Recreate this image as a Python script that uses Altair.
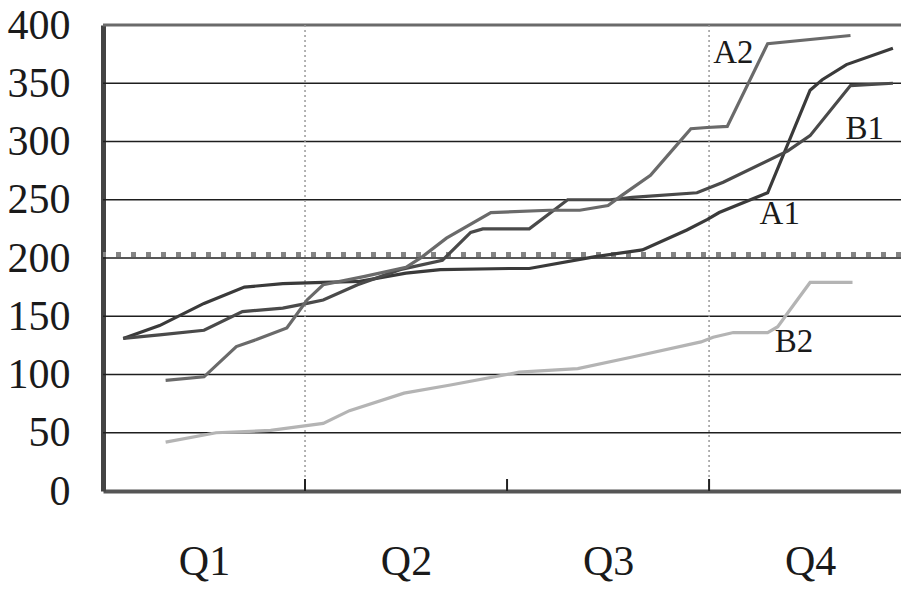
import altair as alt
import pandas as pd

# ---- data (x in quarter units, 0 = start of Q1) ----
y_ticks = [0, 50, 100, 150, 200, 250, 300, 350, 400]
grid_values = [50, 100, 150, 200, 250, 300, 350]
quarter_centers = [0.5, 1.5, 2.5, 3.5]
quarter_bounds = [1, 3]
bottom_ticks = [1, 2, 3]
threshold = [203]

a1_x = [0.10, 0.28, 0.50, 0.70, 0.89, 1.09, 1.27, 1.50, 1.67, 2.01, 2.11, 2.43, 2.67, 2.89, 2.99, 3.05, 3.29, 3.50, 3.56, 3.68, 3.91]
a1_y = [131, 142, 161, 175, 178, 179, 180, 187, 190, 191, 191, 201, 207, 224, 233, 239, 256, 344, 353, 366, 380]

b1_x = [0.10, 0.28, 0.50, 0.69, 0.89, 1.01, 1.09, 1.26, 1.47, 1.68, 1.82, 1.88, 2.11, 2.30, 2.51, 2.62, 2.94, 3.07, 3.39, 3.50, 3.70, 3.91]
b1_y = [131, 134, 138, 154, 157, 161, 164, 177, 190, 198, 222, 225, 225, 250, 250, 252, 256, 265, 292, 305, 348, 350]

a2_x = [0.31, 0.50, 0.66, 0.76, 0.91, 1.01, 1.09, 1.29, 1.50, 1.58, 1.70, 1.92, 2.21, 2.36, 2.50, 2.57, 2.71, 2.86, 2.91, 2.99, 3.09, 3.29, 3.70]
a2_y = [95, 98, 124, 130, 140, 164, 177, 184, 192, 201, 217, 239, 241, 241, 245, 254, 271, 301, 311, 312, 313, 384, 391]

b2_x = [0.31, 0.56, 0.83, 0.96, 1.09, 1.22, 1.49, 1.72, 2.06, 2.35, 2.62, 2.96, 3.02, 3.12, 3.29, 3.34, 3.39, 3.50, 3.71]
b2_y = [42, 50, 52, 55, 58, 69, 84, 91, 102, 105, 115, 128, 132, 136, 136, 141, 153, 179, 179]

label_names = ["A2", "A1", "B1", "B2"]
label_x = [3.12, 3.35, 3.77, 3.42]
label_y = [376, 238, 311, 128]

series_names = ["A1", "B1", "A2", "B2"]
series_colors = ["#3a3a3a", "#4a4a4a", "#6a6a6a", "#b4b4b4"]

# ---- tables ----
rows = []
for name, xs, ys in [("A1", a1_x, a1_y), ("B1", b1_x, b1_y), ("A2", a2_x, a2_y), ("B2", b2_x, b2_y)]:
    for i, (xv, yv) in enumerate(zip(xs, ys)):
        rows.append({"series": name, "q": xv, "v": yv, "order": i})
df = pd.DataFrame(rows)
grid_df = pd.DataFrame({"v": grid_values})
top_df = pd.DataFrame({"v": [400]})
thr_df = pd.DataFrame({"v": threshold})
vline_df = pd.DataFrame({"q": quarter_bounds})
tick_df = pd.DataFrame({"q": bottom_ticks})
lab_df = pd.DataFrame({"name": label_names, "q": label_x, "v": label_y})

FONT = "Liberation Serif"
xscale = alt.Scale(domain=[0, 3.95], nice=False, zero=False)
yscale = alt.Scale(domain=[0, 400], nice=False, zero=True)

xaxis = alt.Axis(values=quarter_centers, labelExpr="'Q' + (datum.value + 0.5)",
                 ticks=False, grid=False, domain=True, domainColor="#555555", domainWidth=4,
                 labelFont=FONT, labelFontSize=42, labelColor="#1a1a1a", labelPadding=50,
                 title=None, labelFlush=False)
yaxis = alt.Axis(values=y_ticks, ticks=False, grid=False, domain=True, domainColor="#444444",
                 domainWidth=5, labelFont=FONT, labelFontSize=42, labelColor="#1a1a1a",
                 labelPadding=33, title=None, labelFlush=False)

X = alt.X("q:Q", scale=xscale, axis=xaxis)
Y = alt.Y("v:Q", scale=yscale, axis=yaxis)

grid = alt.Chart(grid_df).mark_rule(color="#1e1e1e", strokeWidth=1.5).encode(y=Y)
top = alt.Chart(top_df).mark_rule(color="#6a6a6a", strokeWidth=3).encode(y=Y)
vlines = alt.Chart(vline_df).mark_rule(color="#9a9a9a", strokeWidth=1.5, strokeDash=[2, 3]).encode(x=X)
thr = alt.Chart(thr_df).mark_rule(color="#858585", strokeWidth=5, strokeDash=[5, 10]).encode(y=Y)
ticks = alt.Chart(tick_df).mark_rule(color="#222222", strokeWidth=2).encode(
    x=X, y=alt.value(454), y2=alt.value(466))

lines = alt.Chart(df).mark_line(strokeWidth=3.2).encode(
    x=X, y=Y,
    color=alt.Color("series:N", scale=alt.Scale(domain=series_names, range=series_colors), legend=None),
    order="order:Q",
)

labels = alt.Chart(lab_df).mark_text(font=FONT, fontSize=33, color="#1a1a1a",
                                     align="center", baseline="middle").encode(
    x=X, y=Y, text="name:N")

chart = alt.layer(grid, top, vlines, thr, ticks, lines, labels).properties(
    width=798, height=466,
    autosize=alt.AutoSizeParams(type="none"),
    padding={"left": 103, "top": 25, "right": 0, "bottom": 98},
).configure_view(stroke=None).configure(background="white")

chart.save("out.html", embed_options={"renderer": "svg", "actions": False})
